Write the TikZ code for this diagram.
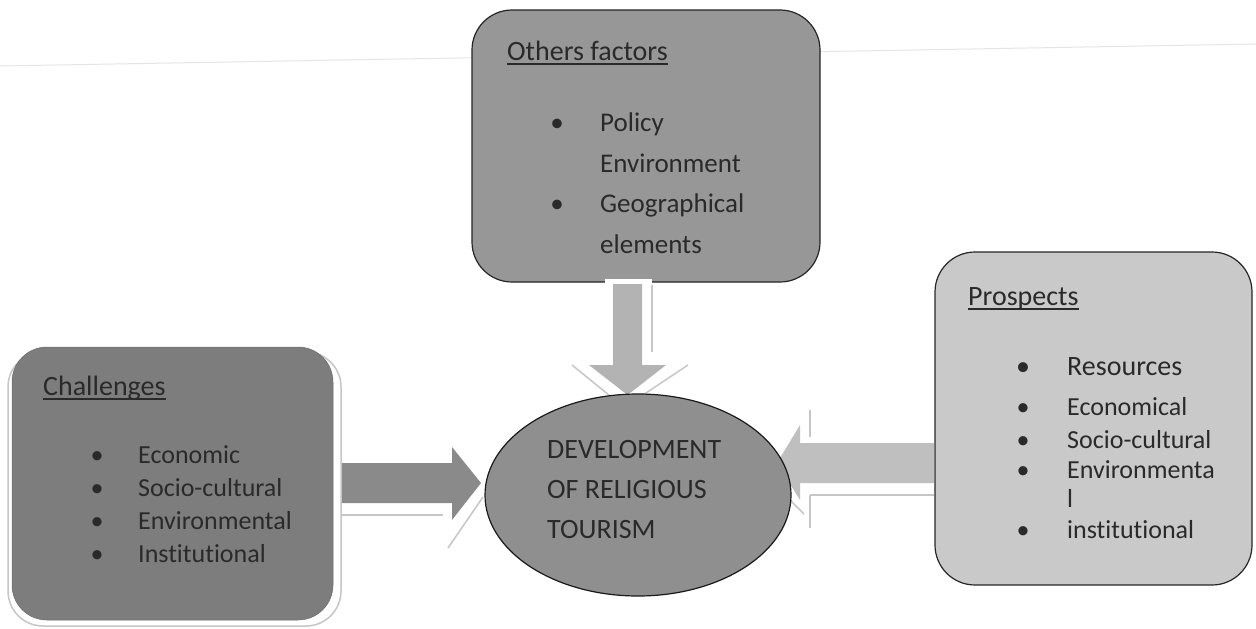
\documentclass[tikz,border=0pt]{standalone}
\usepackage{fontspec}
\setmainfont{Carlito}[Ligatures=CommonOff]
\usetikzlibrary{shapes.geometric}
\definecolor{chalfill}{HTML}{7D7D7D}
\definecolor{otherfill}{HTML}{979797}
\definecolor{prosfill}{HTML}{C9C9C9}
\definecolor{devfill}{HTML}{8F8F8F}
\definecolor{leftarrowc}{HTML}{8A8A8A}
\definecolor{toparrowc}{HTML}{B3B3B3}
\definecolor{rightarrowc}{HTML}{BFBFBF}
\definecolor{textgray}{HTML}{2A2A2A}
\begin{document}
\begin{tikzpicture}[x=1pt,y=-1pt,
  boxA/.style={rounded corners=40pt, draw=black!85, line width=1.2pt, inner sep=0pt},
  txt/.style={inner sep=0pt, anchor=base west, text=textgray},
  bul/.style={inner sep=0pt, anchor=base, text=textgray},
  shline/.style={draw=gray!45, line width=1.5pt},
  ul/.style={draw=textgray, line width=1.3pt},
  fbig/.style={font=\fontsize{28}{34}\selectfont},
  fmid/.style={font=\fontsize{27}{32}\selectfont},
  fsmall/.style={font=\fontsize{26}{31}\selectfont}
]
\useasboundingbox (0,0) rectangle (1256,629);
\fill[white] (0,0) rectangle (1256,629);
\draw[gray!20, line width=1pt] (0,66) -- (1256,44);

% Challenges box with its shadow
\draw[shline, fill=white, rounded corners=35pt] (8,352) rectangle (341,626);
\node (chal) [fill=chalfill, draw=chalfill!85!black, line width=0.5pt, rounded corners=35pt,
  minimum width=321pt, minimum height=273pt, inner sep=0pt] at (172.5,483.5) {};

% Others factors box
\node (other) [boxA, fill=otherfill, minimum width=348pt, minimum height=272pt] at (646,146) {};

% Prospects box
\node (pros) [boxA, fill=prosfill, minimum width=317pt, minimum height=333pt] at (1093.5,418.5) {};

% Top arrow (Others factors -> Development)
\fill[white] (605,279) rectangle (652,286);
\draw[shline] (652,285) -- (652,352);
\draw[shline] (572,365) -- (615,400);
\draw[shline] (688,365) -- (640,397);
\fill[toparrowc] (613,284) -- (642,284) -- (642,365) -- (666,365) -- (627.5,395)
  -- (589,365) -- (613,365) -- cycle;

% Left arrow (Challenges -> Development)
\draw[shline] (342,515) -- (443,515);
\draw[shline] (483,497) -- (448,548);
\fill[leftarrowc] (342,463) -- (452,463) -- (452,447) -- (481,483) -- (452,520)
  -- (452,503) -- (342,503) -- cycle;

% Right arrow (Prospects -> Development)
\draw[shline] (810,495) -- (934,495);
\draw[shline] (810,410) -- (810,437);
\draw[shline] (810,495) -- (810,528);
\draw[shline] (790,500) -- (804,514);
\fill[rightarrowc] (934,443) -- (800,443) -- (800,425) -- (777,463) -- (800,500)
  -- (800,483) -- (934,483) -- cycle;

% Central ellipse
\node (dev) [ellipse, draw=black!90, line width=1.2pt, fill=devfill, inner sep=0pt,
  minimum width=306pt, minimum height=202pt] at (638,495) {};
\node (d1) [txt, fbig] at (547,458) {DEVELOPMENT};
\node (d2) [txt, fbig] at (547,498) {OF RELIGIOUS};
\node (d3) [txt, fbig] at (547,538) {TOURISM};

% Others factors text
\node (o0) [txt, fbig] at (507,60) {Others factors};
\draw[ul] ([yshift=-4pt]o0.base west) -- ([yshift=-4pt]o0.base east);
\node (ob1) [bul, fmid] at (557,131) {•};
\node (o1) [txt, fmid] at (600,131) {Policy};
\node (o2) [txt, fmid] at (600,172) {Environment};
\node (ob2) [bul, fmid] at (557,212) {•};
\node (o3) [txt, fmid] at (600,212) {Geographical};
\node (o4) [txt, fmid] at (600,253) {elements};

% Challenges text
\node (c0) [txt, fbig] at (43,395) {Challenges};
\draw[ul] ([yshift=-4pt]c0.base west) -- ([yshift=-4pt]c0.base east);
\node (cb1) [bul, fsmall] at (97,463) {•};
\node (c1) [txt, fsmall] at (138,463) {Economic};
\node (cb2) [bul, fsmall] at (97,496) {•};
\node (c2) [txt, fsmall] at (138,496) {Socio-cultural};
\node (cb3) [bul, fsmall] at (97,529) {•};
\node (c3) [txt, fsmall] at (138,529) {Environmental};
\node (cb4) [bul, fsmall] at (97,562) {•};
\node (c4) [txt, fsmall] at (138,562) {Institutional};

% Prospects text
\node (p0) [txt, fbig] at (968,305) {Prospects};
\draw[ul] ([yshift=-4pt]p0.base west) -- ([yshift=-4pt]p0.base east);
\node (pb1) [bul, fbig] at (1023,375) {•};
\node (p1) [txt, fbig] at (1067,375) {Resources};
\node (pb2) [bul, fsmall] at (1023,415) {•};
\node (p2) [txt, fsmall] at (1067,415) {Economical};
\node (pb3) [bul, fsmall] at (1023,448) {•};
\node (p3) [txt, fsmall] at (1067,448) {Socio-cultural};
\node (pb4) [bul, fsmall] at (1023,478) {•};
\node (p4) [txt, fsmall] at (1067,478) {Environmenta};
\node (p5) [txt, fsmall] at (1067,507) {l};
\node (pb5) [bul, fsmall] at (1023,538) {•};
\node (p6) [txt, fsmall] at (1067,538) {institutional};
\end{tikzpicture}
\end{document}
